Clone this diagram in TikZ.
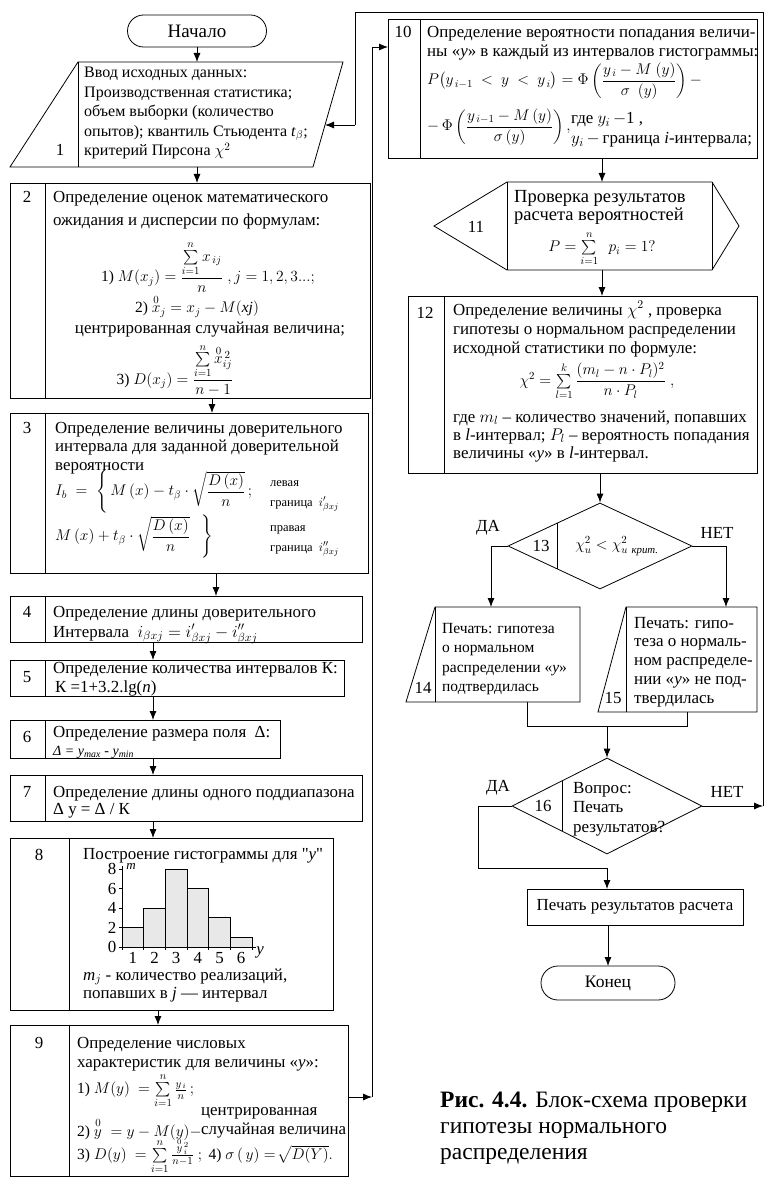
\RequirePackage{fix-cm}
\documentclass[tikz,border=0pt]{standalone}
\usepackage{amsmath}
\usepackage{fontspec}
\setmainfont{Liberation Serif}
\newfontfamily\qfont{Liberation Serif}
\usetikzlibrary{arrows.meta,shapes.geometric}
\newcommand\bfnt{\fontsize{16.9}{19.5}\selectfont}
\newcommand\mfnt{\fontsize{15.5}{19.5}\selectfont}
\newcommand\sfnt{\fontsize{12.5}{19.5}\selectfont}
\newcommand\capfnt{\fontsize{23.5}{26}\selectfont}
\newcommand\zr[1]{\overset{0}{#1}}
\begin{document}
\begin{tikzpicture}[x=1pt,y=-1pt,
  ln/.style={line width=0.8pt},
  blk/.style={draw,line width=0.8pt,inner sep=0pt,outer sep=0pt},
  ghost/.style={inner sep=0pt,outer sep=0pt},
  arr/.style={line width=0.8pt,-{Latex[length=9pt,width=7pt]}},
  tx/.style={inner sep=0pt,anchor=base west,font=\bfnt,align=left},
  tw/.style={inner sep=0pt,anchor=west,font=\mfnt},
  tc/.style={inner sep=0pt,font=\mfnt},
  num/.style={inner sep=0pt,anchor=base,font=\bfnt},
  lab/.style={inner sep=0pt,font=\bfnt},
]
\useasboundingbox (0,0) rectangle (778,1185);

% ---------- start
\node[blk,rounded corners=16pt,minimum width=139pt,minimum height=32pt,font=\fontsize{19}{20}\selectfont] (start) at (197,31) {Начало};

% ---------- block 1 (input)
\draw[ln] (78,62) -- (343,62) -- (313,167) -- (10,167) -- cycle;
\draw[ln] (78,62) -- (78,167);
\node[ghost,minimum width=333pt,minimum height=105pt] (b1) at (176.5,114.5) {};
\node[num] (n1) at (60,156) {1};
\node[tx,font=\fontsize{16}{19.6}\selectfont] (t1) at (84,156) {Ввод исходных данных:\\Производственная статистика;\\объем выборки (количество\\опытов); квантиль Стьюдента \textit{t}$_\beta$;\\критерий Пирсона $\chi^2$};

% ---------- block 2
\node[blk,minimum width=360pt,minimum height=215pt] (b2) at (190,290.5) {};
\draw[ln] ([xshift=35pt]b2.north west) -- ([xshift=35pt]b2.south west);
\node[num] (n2) at (27,202) {2};
\node[tx,font=\fontsize{16.9}{23}\selectfont] (t2) at (53,225) {Определение оценок математического\\ожидания и дисперсии по формулам:};
\node[tc] (f2a) at (208,267) {$\text{1) } M(x_j) = \dfrac{\sum\limits_{i=1}^{n} x_{\,ij}}{n}\;, j = 1,2,3...;$};
\node[tc] (f2b) at (197,306) {$\text{2) } \zr{x}_j = x_j - M(\mathit{xj})$};
\node[num] (t2c) at (210,333) {центрированная случайная величина;};
\node[tc] (f2c) at (175,370) {$\text{3) } D(x_j) = \dfrac{\sum\limits_{i=1}^{n} \zr{x}{}^{\,2}_{ij}}{n-1}$};

% ---------- block 3
\node[blk,minimum width=358pt,minimum height=160pt] (b3) at (189,493) {};
\draw[ln] ([xshift=35pt]b3.north west) -- ([xshift=35pt]b3.south west);
\node[num] (n3) at (27,433) {3};
\node[tx,font=\fontsize{16.9}{18.8}\selectfont] (t3) at (55,470.6) {Определение величины доверительного\\интервала для заданной доверительной\\вероятности};
\node[tw] (f3a) at (55,492) {$I_b\;=\;\left\{\,M\,(x) - t_{\beta}\cdot\sqrt{\dfrac{D\,(x)}{n}}\,;\right.$};
\node[tx,font=\sfnt] (t3a) at (270,506) {левая\\граница\ \ $i'_{\beta xj}$};
\node[tw] (f3b) at (55,537) {$M\,(x) + t_{\beta}\cdot\sqrt{\dfrac{D\,(x)}{n}}\ \ \left.\vphantom{\sqrt{\dfrac{D\ (x)}{n}}}\right\}$};
\node[tx,font=\sfnt] (t3b) at (270,551) {правая\\граница\ \ $i''_{\beta xj}$};

% ---------- block 4
\node[blk,minimum width=352pt,minimum height=46pt] (b4) at (186,619) {};
\draw[ln] ([xshift=35pt]b4.north west) -- ([xshift=35pt]b4.south west);
\node[num] (n4) at (27,617) {4};
\node[tx] (t4) at (53,637) {Определение длины доверительного\\Интервала\ \ $i_{\beta xj} = i'_{\beta xj} - i''_{\beta xj}$};

% ---------- block 5
\node[blk,minimum width=334pt,minimum height=36pt] (b5) at (177,678) {};
\draw[ln] ([xshift=35pt]b5.north west) -- ([xshift=35pt]b5.south west);
\node[num] (n5) at (27,682) {5};
\node[tx] (t5a) at (53,673) {Определение количества интервалов К:};
\node[tx] (t5b) at (55,692) {К =1+3.2.lg(\textit{n})};

% ---------- block 6
\node[blk,minimum width=270pt,minimum height=38pt] (b6) at (145,739) {};
\draw[ln] ([xshift=35pt]b6.north west) -- ([xshift=35pt]b6.south west);
\node[num] (n6) at (27,742) {6};
\node[tx] (t6a) at (53,737) {Определение размера поля\ \ Δ:};
\node[tx,font=\fontsize{14}{16}\selectfont] (t6b) at (53,755) {\textit{Δ = y}$_{\mathit{max}}$ - \textit{y}$_{\mathit{min}}$};

% ---------- block 7
\node[blk,minimum width=352pt,minimum height=46pt] (b7) at (186,798) {};
\draw[ln] ([xshift=35pt]b7.north west) -- ([xshift=35pt]b7.south west);
\node[num] (n7) at (27,797) {7};
\node[tx] (t7a) at (53,797) {Определение длины одного поддиапазона};
\node[tx] (t7b) at (53,814) {Δ у = Δ / К};

% ---------- block 8
\node[blk,minimum width=323pt,minimum height=172pt] (b8) at (171.5,924) {};
\draw[ln] ([xshift=59pt]b8.north west) -- ([xshift=59pt]b8.south west);
\node[num] (n8) at (39,860) {8};
\node[tx] (t8) at (83,859) {Построение гистограммы для {\qfont"}\textit{y}{\qfont"}};
\foreach \i/\h in {0/2,1/4,2/8,3/6,4/3,5/1}
  \draw[ln,fill=gray!18] (122+\i*21.67,947) rectangle (143.67+\i*21.67,947-\h*9.75);
\draw[ln] (122,947) -- (122,866);
\draw[ln] (122,947) -- (256,947);
\foreach \v in {0,2,4,6,8} {
  \draw[ln] (119,947-\v*9.75) -- (122,947-\v*9.75);
  \node[lab] (yt\v) at (112,947-\v*9.75) {\v};
}
\foreach \i in {0,...,6} \draw[ln] (122+\i*21.67,947) -- (122+\i*21.67,950);
\foreach \i in {1,...,6} \node[lab] (xt\i) at (111.2+\i*21.67,958) {\i};
\node[lab,font=\fontsize{13}{14}\selectfont\itshape] (mlab) at (131,866) {m};
\node[lab,font=\bfnt\itshape] (ylab) at (260,952) {y};
\node[tx] (t8b) at (83,998) {\textit{m}$_j$ - количество реализаций,\\[-1.5pt]попавших в \textit{j} — интервал};

% ---------- block 9
\node[blk,minimum width=338pt,minimum height=151pt] (b9) at (179,1100.5) {};
\draw[ln] ([xshift=59pt]b9.north west) -- ([xshift=59pt]b9.south west);
\node[num] (n9) at (39,1048) {9};
\node[tx,font=\fontsize{16.9}{19}\selectfont] (t9) at (77,1067) {Определение числовых\\характеристик для величины «\textit{y}»:};
\node[tw] (f9a) at (77,1091) {$\text{1) } M(y)\ = \sum\limits_{i=1}^{n}\frac{y_{\,i}}{n}\,;$};
\node[tx] (t9b) at (201,1115) {центрированная};
\node[tw] (f9b) at (77,1129) {$\text{2) } \zr{y}\;= y - M(y) -$};
\node[tx] (t9c) at (201,1134) {случайная величина};
\node[tw] (f9c) at (77,1156) {$\text{3) } D(y)\ = \sum\limits_{i=1}^{n}\frac{\zr{y}{}^{\,2}_{\,i}}{n-1}\ ;\ \text{4) } \sigma\,(\,y) = \!\sqrt{D(Y)}.$};

% ---------- block 10
\node[blk,minimum width=369pt,minimum height=139pt] (b10) at (572.5,88.5) {};
\draw[ln] ([xshift=32pt]b10.north west) -- ([xshift=32pt]b10.south west);
\node[num] (n10) at (403,38) {10};
\node[tx,font=\fontsize{16.9}{19}\selectfont] (t10) at (427,57) {Определение вероятности попадания величи-\\ны «\textit{y}» в каждый из интервалов гистограммы:};
\node[tw] (f10a) at (427,81) {$P\big(y_{\,i-1}\ <\ y\ <\ y_{\,i}\big) = \Phi\left(\dfrac{y_{\,i} - M\ (y)}{\sigma\ \ (y)}\right) -$};
\node[tw] (f10b) at (427,127) {$-\,\Phi\left(\dfrac{y_{\,i-1} - M\,(y)}{\sigma\,(y)}\right),$};
\node[tx] (t10b) at (571,143.5) {где $y_i$\,$-$1 ,\\$y_i$\,$-$\,граница \textit{i}-интервала;};

% ---------- block 11
\draw[ln] (434,226) -- (507,182) -- (712,182) -- (739,226) -- (712,270) -- (507,270) -- cycle;
\draw[ln] (507,182) -- (507,270);
\draw[ln] (712,182) -- (712,270);
\node[ghost,minimum width=305pt,minimum height=88pt] (b11) at (586.5,226) {};
\node[num] (n11) at (476,232) {11};
\node[tx,font=\fontsize{18.5}{18.5}\selectfont] (t11) at (514,220.5) {Проверка результатов\\расчета вероятностей};
\node[tc] (f11) at (602,249) {$P = \sum\limits_{i=1}^{n}\ \ p_i = 1?$};

% ---------- block 12
\node[blk,minimum width=349pt,minimum height=177pt] (b12) at (582.5,384.5) {};
\draw[ln] ([xshift=36pt]b12.north west) -- ([xshift=36pt]b12.south west);
\node[num] (n12) at (425,318) {12};
\node[tx,font=\fontsize{16.9}{19}\selectfont] (t12a) at (453,353) {Определение величины $\chi^2$ , проверка\\гипотезы о нормальном распределении\\исходной статистики по формуле:};
\node[tc] (f12) at (597,381) {$\chi^2 = \sum\limits_{l=1}^{k}\dfrac{(m_l - n\cdot P_l)^2}{n\cdot P_l}\;,$};
\node[tx,font=\fontsize{16.9}{18.3}\selectfont] (t12b) at (453,458.6) {где $m_l$ -- количество значений, попавших\\в \textit{l}-интервал; $P_l$ -- вероятность попадания\\величины «\textit{y}» в \textit{l}-интервал.};

% ---------- block 13
\node[draw,ln,diamond,minimum width=184pt,minimum height=86pt,inner sep=0pt] (b13) at (600,546) {};
\draw[ln] (557,523.1) -- (557,568.9);
\node[lab] (n13) at (541,546) {13};
\node[tc] (f13) at (617,546) {$\chi^2_u < \chi^2_{u\ \text{\itshape крит.}}$};
\node[lab] (da1) at (488,528) {ДА};
\node[lab] (net1) at (717,533) {НЕТ};

% ---------- block 14
\draw[ln] (406,702) -- (435,607) -- (580,607) -- (580,702) -- cycle;
\draw[ln] (435,607) -- (435,702);
\node[ghost,minimum width=174pt,minimum height=95pt] (b14) at (493,654.5) {};
\node[num] (n14) at (423,693) {14};
\node[tx,font=\fontsize{15.5}{19.5}\selectfont] (t14) at (442,691.5) {Печать: гипотеза\\о нормальном\\распределении «\textit{y}»\\подтвердилась};

% ---------- block 15
\draw[ln] (598,712) -- (626,607) -- (757,607) -- (757,712) -- cycle;
\draw[ln] (626,607) -- (626,712);
\node[ghost,minimum width=159pt,minimum height=105pt] (b15) at (677.5,659.5) {};
\node[num] (n15) at (613,703) {15};
\node[tx,font=\fontsize{17}{18.8}\selectfont] (t15) at (634,703.2) {Печать: гипо-\\теза о нормаль-\\ном распределе-\\нии «\textit{y}» не под-\\твердилась};

% ---------- block 16
\node[draw,ln,diamond,minimum width=190pt,minimum height=96pt,inner sep=0pt] (b16) at (607,806) {};
\draw[ln] (562,780.7) -- (562,831.3);
\node[lab] (n16) at (543,806) {16};
\node[tx,font=\fontsize{17}{19.5}\selectfont] (t16) at (573,832) {Вопрос:\\Печать\\результатов?};
\node[lab] (da2) at (498,788) {ДА};
\node[lab] (net2) at (727,792) {НЕТ};

% ---------- print & end
\node[blk,minimum width=216pt,minimum height=36pt,font=\bfnt] (pr) at (635,907) {Печать результатов расчета};
\node[blk,rounded corners=17pt,minimum width=134pt,minimum height=34pt,font=\fontsize{17.5}{20}\selectfont] (end) at (608,983) {Конец};

% ---------- caption
\node[tx,font=\capfnt] (cap) at (440,1159) {\textbf{Рис. 4.4.} Блок-схема проверки\\гипотезы нормального\\распределения};

% ---------- connectors
\coordinate (colL1) at (197,0);
\coordinate (colR) at (602,0);
\draw[arr] (start.south) -- (start.south |- b1.north);
\draw[arr] (b1.south -| colL1) -- (b2.north -| colL1);
\draw[arr] ([xshift=22pt]b2.south) -- ([xshift=22pt]b2.south |- b3.north);
\draw[arr] ([xshift=27pt]b3.south) -- ([xshift=27pt]b3.south |- b4.north);
\draw[arr] ([xshift=-33pt]b4.south) -- ([xshift=-33pt]b4.south |- b5.north);
\draw[arr] ([xshift=-24pt]b5.south) -- ([xshift=-24pt]b5.south |- b6.north);
\draw[arr] ([xshift=8pt]b6.south) -- ([xshift=8pt]b6.south |- b7.north);
\draw[arr] ([xshift=-33pt]b7.south) -- ([xshift=-33pt]b7.south |- b8.north);
\draw[arr] ([xshift=-13.5pt]b8.south) -- ([xshift=-13.5pt]b8.south |- b9.north);

\coordinate (j1) at (372,1097);
\coordinate (j2) at (372,47);
\draw[arr] (b9.east |- j1) -- (j1);
\draw[arr] (j1) -- (j2) -- (j2 -| b10.west);

\draw[arr] (b10.south -| colR) -- (b11.north -| colR);
\draw[arr] (b11.south -| colR) -- (b12.north -| colR);
\draw[arr] (b12.south -| b13.north) -- (b13.north);

\coordinate (c14) at (491,607);
\coordinate (c15) at (726,607);
\draw[arr] (b13.west) -| (c14);
\draw[arr] (b13.east) -| (c15);

\coordinate (m1) at (527,726);
\coordinate (m2) at (687,726);
\draw[ln] (m1 |- b14.south) -- (m1) -- (m2) -- (m2 |- b15.south);
\draw[arr] (b16.north |- m1) -- (b16.north);

\coordinate (d1) at (478,868);
\draw[arr] (b16.west) -| (d1) -- (d1 -| b16.south) -- (b16.south |- pr.north);
\draw[arr] (pr.south -| end.north) -- (end.north);

\coordinate (r1) at (763,806);
\coordinate (r2) at (763,12);
\coordinate (r3) at (355,12);
\coordinate (r4) at (355,125);
\coordinate (b1in) at (325,125);
\draw[arr] (b16.east) -- (r1 |- b16.east);
\draw[ln] (r1) -- (r2) -- (r3) -- (r4);
\draw[arr] (r4) -- (b1in);
\end{tikzpicture}
\end{document}
